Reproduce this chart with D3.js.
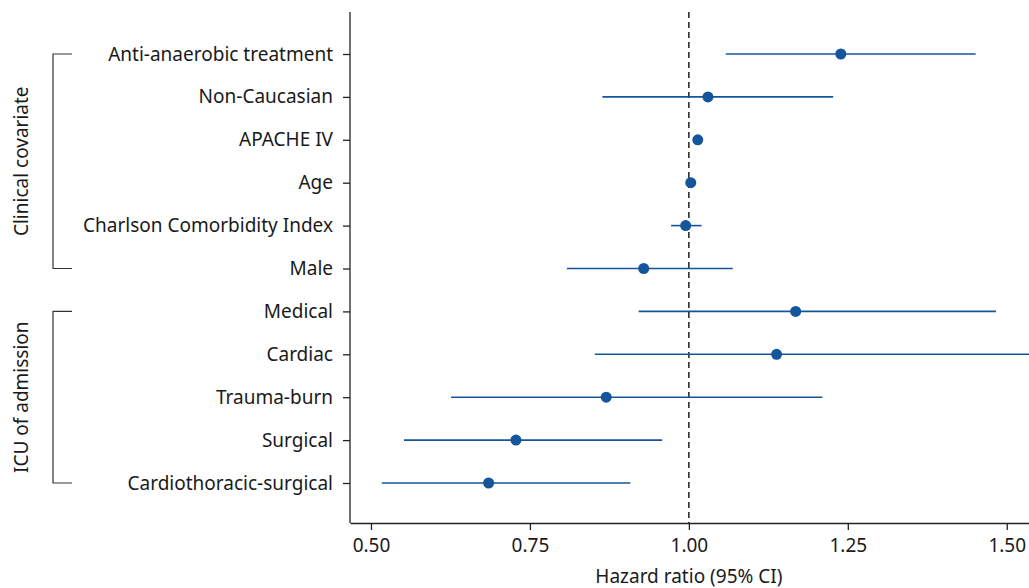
<!DOCTYPE html>
<html>
<head>
<meta charset="utf-8">
<script src="https://cdn.jsdelivr.net/npm/d3@7"></script>
<style>
  body { margin: 0; background: #fff; }
  svg text { font-family: "Noto Sans", Roboto, sans-serif; fill: #1a1a1a; }
</style>
</head>
<body>
<svg id="chart" width="1029" height="588"></svg>
<script>
// data, top to bottom
const labels = [
  "Anti-anaerobic treatment", "Non-Caucasian", "APACHE IV", "Age",
  "Charlson Comorbidity Index", "Male",
  "Medical", "Cardiac", "Trauma-burn", "Surgical", "Cardiothoracic-surgical"
];
const hr    = [1.239, 1.030, 1.014, 1.003, 0.995, 0.929, 1.168, 1.138, 0.870, 0.728, 0.685];
const lower = [1.058, 0.864, 1.009, 0.999, 0.972, 0.808, 0.921, 0.852, 0.626, 0.552, 0.517];
const upper = [1.451, 1.227, 1.019, 1.007, 1.020, 1.069, 1.483, 1.540, 1.210, 0.958, 0.908];
const groups = [
  { name: "Clinical covariate", first: "Anti-anaerobic treatment", last: "Male" },
  { name: "ICU of admission", first: "Medical", last: "Cardiothoracic-surgical" }
];
const xTicks = [0.5, 0.75, 1.0, 1.25, 1.5];

const rows = labels.map((l, i) => ({ label: l, hr: hr[i], lo: lower[i], hi: upper[i] }));

const svg = d3.select("#chart");
const mLeft = 350, mRight = 1029, mTop = 12, mBottom = 523;
const blue = "#14559b";
const font = "'Noto Sans', Roboto, sans-serif";
const fs = 19;

const x = d3.scaleLinear().domain([0.467, 1.535]).range([mLeft, mRight]);
const y = d3.scalePoint().domain(labels).range([54, 483]);

// axes
const xAxis = svg.append("g")
  .attr("transform", `translate(0,${mBottom})`)
  .call(d3.axisBottom(x).tickValues(xTicks).tickFormat(d3.format(".2f")).tickSize(7).tickSizeOuter(0).tickPadding(9));
xAxis.select(".domain").attr("stroke", "#222").attr("stroke-width", 1.3);
xAxis.selectAll(".tick line").attr("stroke", "#222").attr("stroke-width", 1.3);
xAxis.selectAll("text").attr("font-size", fs).attr("fill", "#1a1a1a").style("font-family", font);

const yAxis = svg.append("g")
  .attr("transform", `translate(${mLeft},0)`)
  .call(d3.axisLeft(y).tickSize(7).tickSizeOuter(0).tickPadding(10));
yAxis.select(".domain").attr("d", `M0,${mTop}V${mBottom}`).attr("stroke", "#222").attr("stroke-width", 1.3);
yAxis.selectAll(".tick line").attr("stroke", "#222").attr("stroke-width", 1.3);
yAxis.selectAll("text").attr("font-size", fs).attr("fill", "#1a1a1a").style("font-family", font);

svg.append("text")
  .attr("x", x(1.0)).attr("y", 583)
  .attr("text-anchor", "middle").attr("font-size", fs)
  .text("Hazard ratio (95% CI)");

// reference line at HR = 1
svg.append("line")
  .attr("x1", x(1)).attr("x2", x(1))
  .attr("y1", mTop).attr("y2", mBottom)
  .attr("stroke", "#111").attr("stroke-width", 1.4)
  .attr("stroke-dasharray", "6,4");

// CIs and points
const g = svg.append("g");
g.selectAll("line.ci").data(rows).join("line")
  .attr("class", "ci")
  .attr("x1", d => x(d.lo)).attr("x2", d => Math.min(x(d.hi), mRight))
  .attr("y1", d => y(d.label)).attr("y2", d => y(d.label))
  .attr("stroke", blue).attr("stroke-width", 1.6);
g.selectAll("circle").data(rows).join("circle")
  .attr("cx", d => x(d.hr)).attr("cy", d => y(d.label))
  .attr("r", 5.5).attr("fill", blue);

// group brackets
const bx = 53, bw = 19;
groups.forEach(gr => {
  const y0 = y(gr.first), y1 = y(gr.last);
  svg.append("path")
    .attr("d", `M${bx + bw},${y0}H${bx}V${y1}H${bx + bw}`)
    .attr("fill", "none").attr("stroke", "#333").attr("stroke-width", 1.2);
  svg.append("text")
    .attr("transform", `translate(28,${(y0 + y1) / 2}) rotate(-90)`)
    .attr("text-anchor", "middle").attr("font-size", fs)
    .text(gr.name);
});
</script>
</body>
</html>
